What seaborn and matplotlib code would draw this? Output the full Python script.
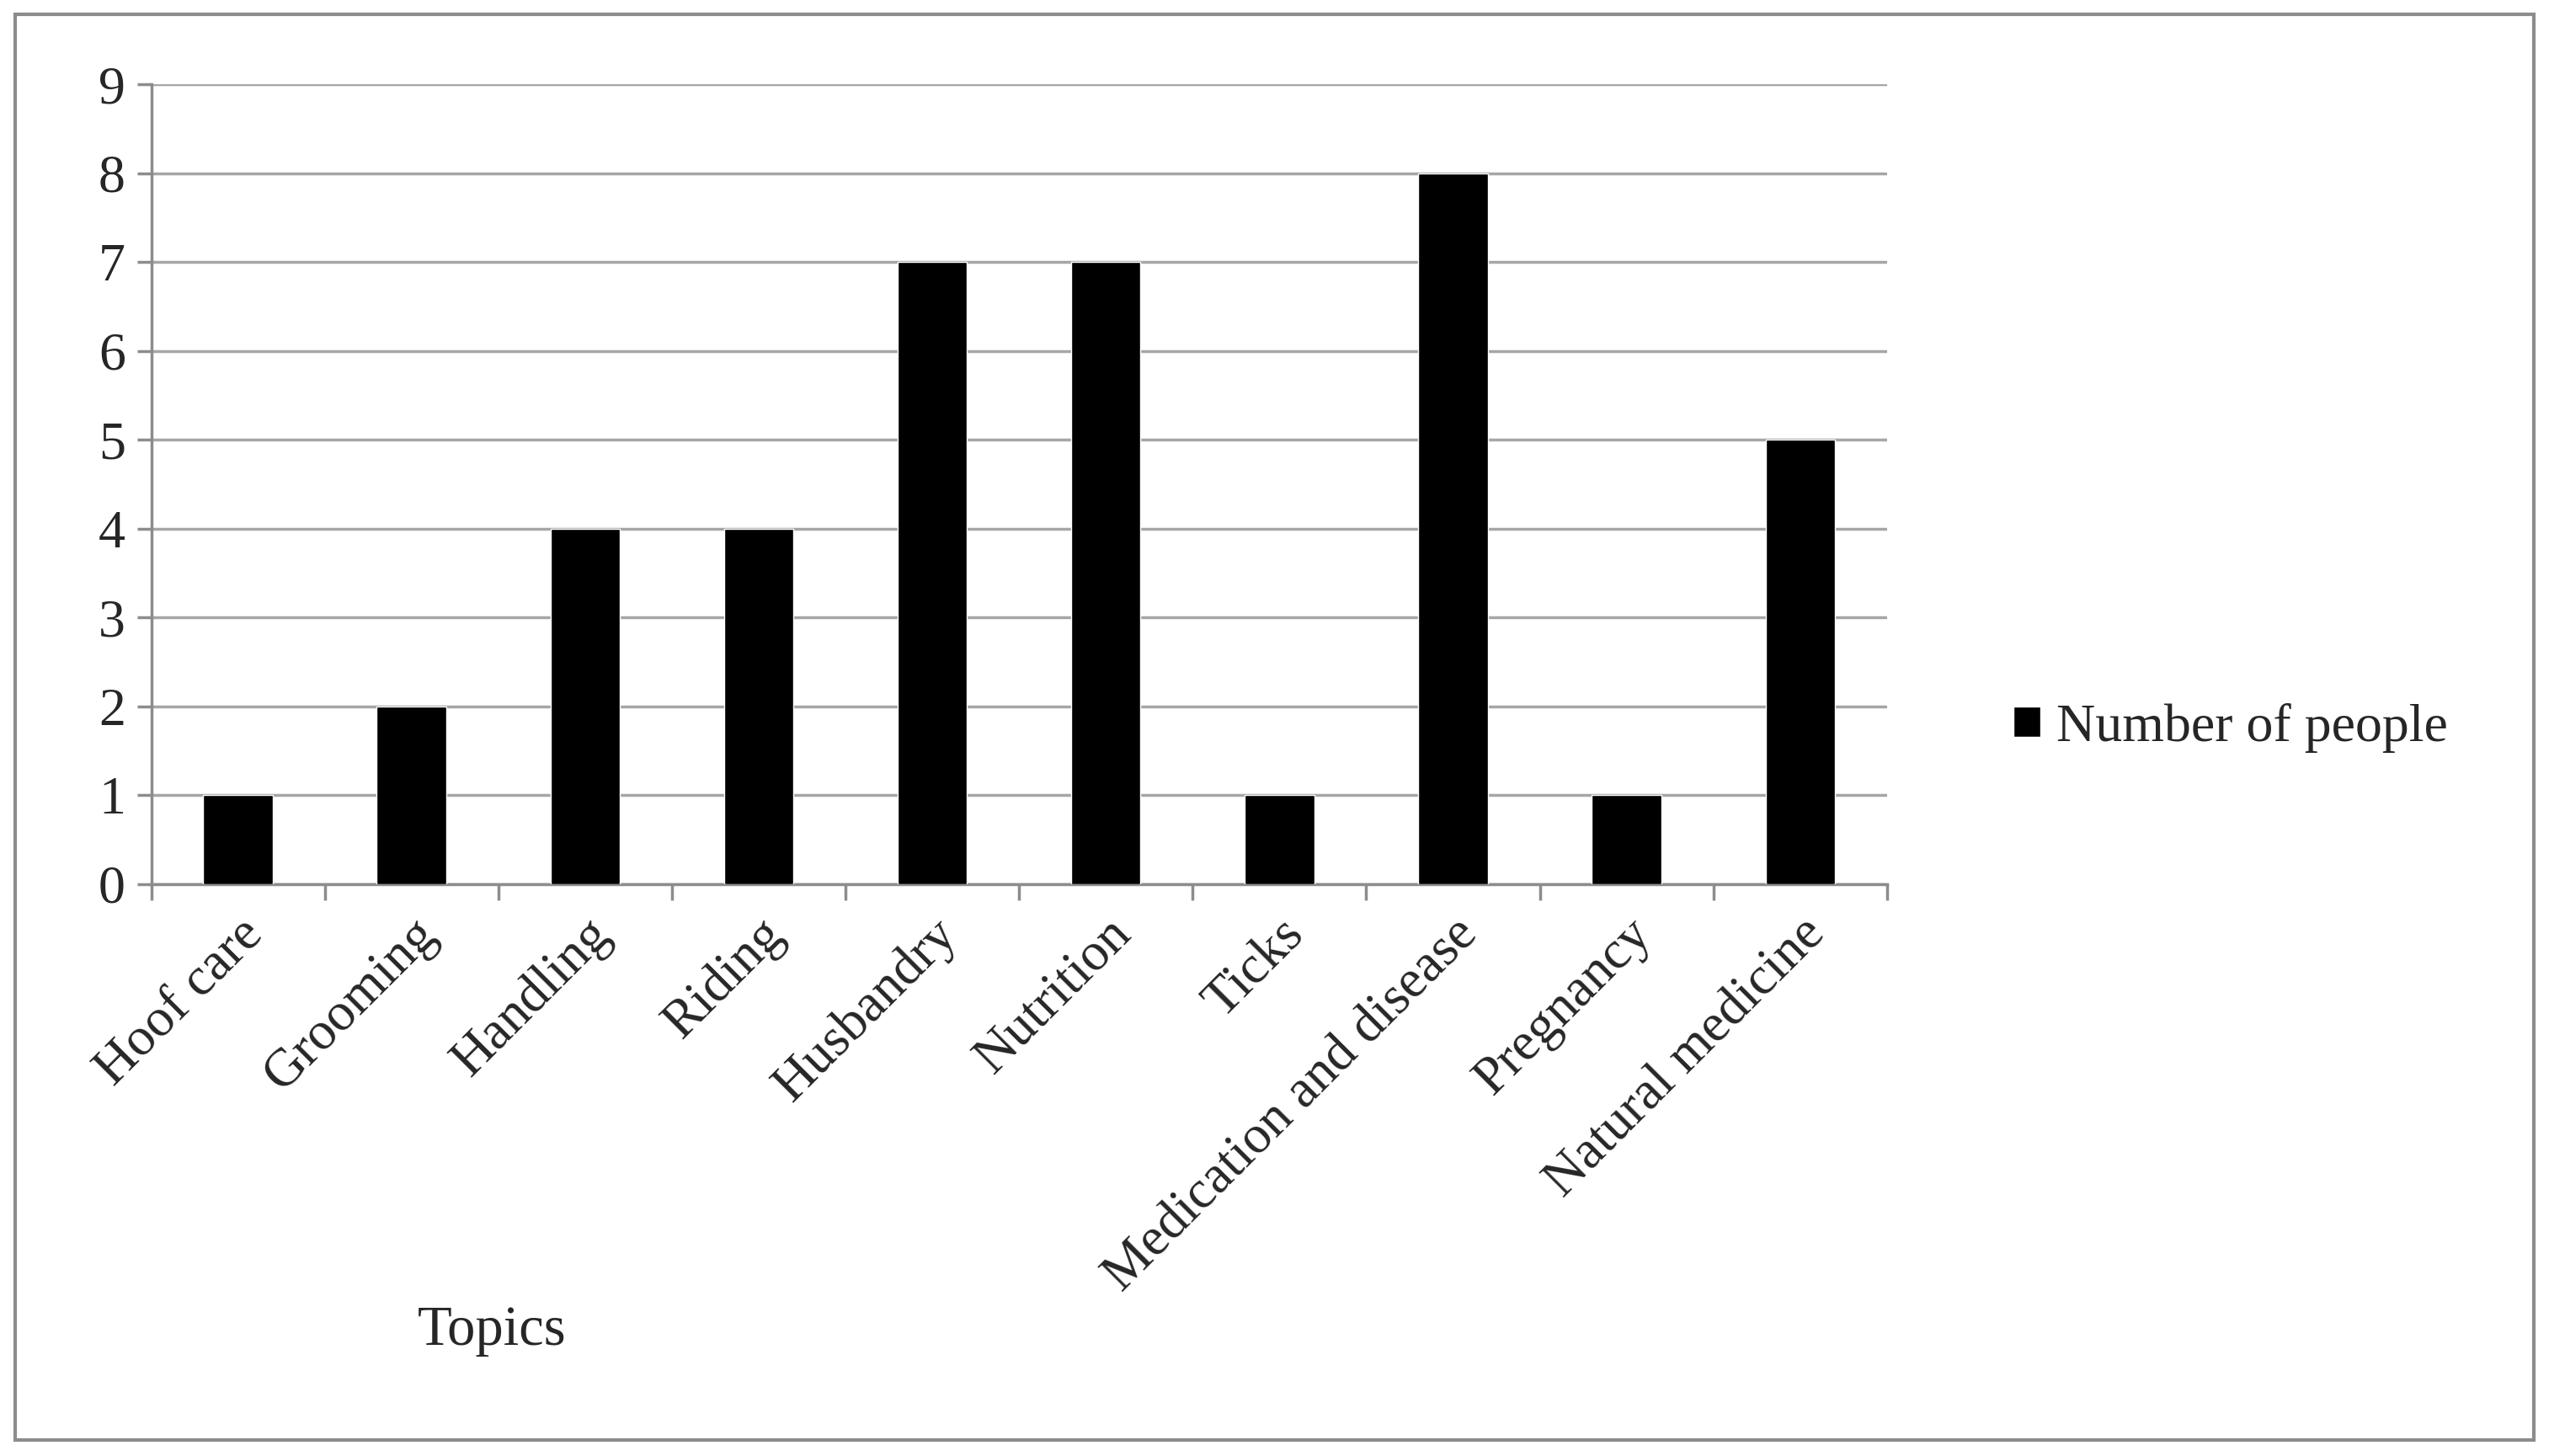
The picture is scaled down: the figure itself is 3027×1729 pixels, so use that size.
import matplotlib
matplotlib.use("Agg")
import matplotlib.pyplot as plt
import seaborn as sns
import pandas as pd
import numpy as np
from matplotlib.patches import Rectangle

topics = ["Hoof care", "Grooming", "Handling", "Riding", "Husbandry", "Nutrition",
          "Ticks", "Medication and disease", "Pregnancy", "Natural medicine"]
people = [1, 2, 4, 4, 7, 7, 1, 8, 1, 5]
yticks = list(range(0, 10))

df = pd.DataFrame({"Topic": topics, "Number of people": people})

sns.set_style("white")
plt.rcParams['font.family'] = ['Liberation Serif', 'DejaVu Serif']

fig = plt.figure(figsize=(30.27, 17.29), dpi=100)
ax = fig.add_axes([0.0593, 0.393, 0.681, 0.549])
sns.barplot(data=df, x="Topic", y="Number of people", color="black", width=0.4,
            ax=ax, label="Number of people", zorder=3)
ax.set_ylim(0, 9)
ax.set_xlim(-0.5, len(topics) - 0.5)
ax.set_yticks(yticks)
ax.yaxis.grid(True, color="#a6a6a6", linewidth=2.5, zorder=0)
ax.set_axisbelow(True)
for s in ["top", "right"]:
    ax.spines[s].set_visible(False)
ax.spines["left"].set_color("#8c8c8c")
ax.spines["bottom"].set_color("#8c8c8c")
ax.spines["left"].set_linewidth(2.5)
ax.spines["bottom"].set_linewidth(2.5)
ax.tick_params(axis="y", labelsize=46, length=12, width=2.5, color="#8c8c8c", direction="out", left=True, pad=10)
ax.set_xticks(np.arange(len(topics)))
ax.set_xticklabels(topics, rotation=45, ha="right", rotation_mode="anchor", fontsize=46)
ax.tick_params(axis="x", length=0, pad=22)
ax.set_xticks(np.arange(-0.5, len(topics)), minor=True)
ax.tick_params(axis="x", which="minor", length=14, width=2.5, color="#8c8c8c", direction="out", bottom=True)
ax.set_ylabel("")
ax.set_xlabel("")
fig.text(0.193, 0.086, "Topics", fontsize=48, ha="center", va="center")
ax.legend(loc="center left", bbox_to_anchor=(1.045, 0.195), frameon=False, fontsize=46,
          handlelength=0.5, handleheight=0.5, handletextpad=0.3)
fig.patches.append(Rectangle((0.006, 0.011), 0.988, 0.979, transform=fig.transFigure,
                             fill=False, edgecolor="#8c8c8c", linewidth=3))
fig.savefig("out.png", dpi=100)
